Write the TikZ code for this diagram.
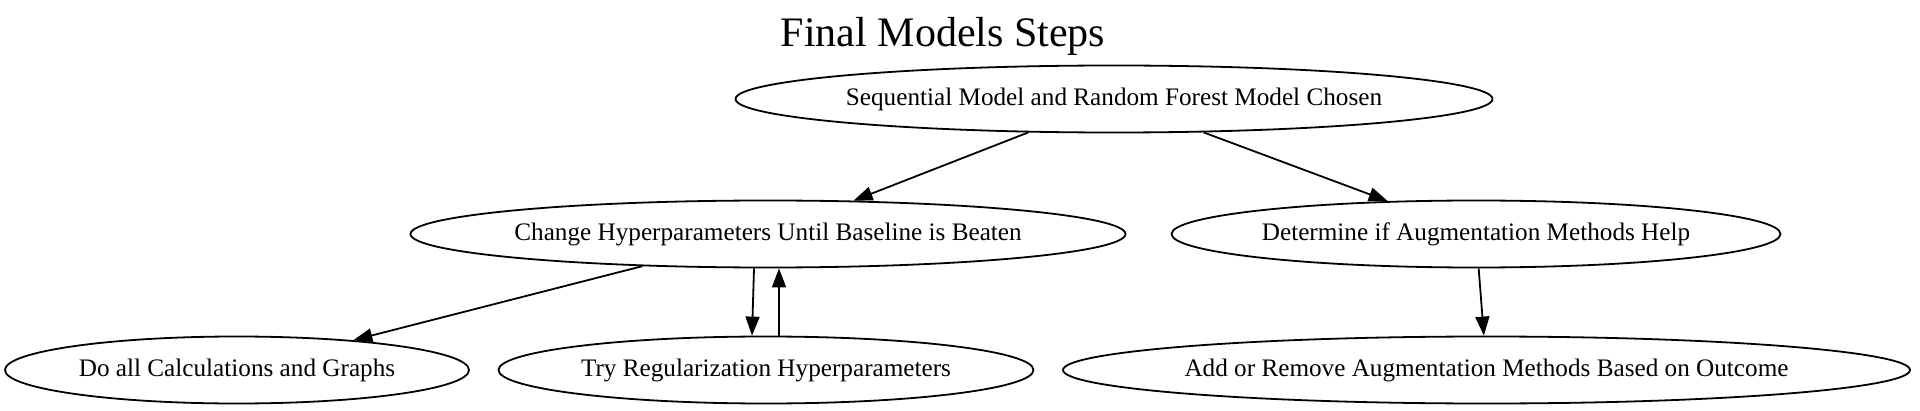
\documentclass[tikz,border=0pt]{standalone}
\usepackage{fontspec}
\setmainfont{Liberation Serif}
\usetikzlibrary{shapes.geometric,arrows.meta}
\newcommand\gvlabel[1]{\makebox[0pt][c]{#1}}
\begin{document}
\begin{tikzpicture}[x=0.5pt,y=-0.5pt,
 gvnode/.style={draw,ellipse,line width=0.9pt,inner sep=0pt,minimum height=33.5pt,font=\fontsize{12.6}{14}\selectfont},
 gvedge/.style={-{Triangle[length=9.5pt,width=7pt]},line width=0.9pt}]
\useasboundingbox (0,0) rectangle (1920,411);
\node (title) at (943,36) {\fontsize{21}{24}\selectfont Final Models Steps};
\node[gvnode,minimum width=378.5pt] (A) at (1114,99) {\gvlabel{Sequential Model and Random Forest Model Chosen}};
\node[gvnode,minimum width=357.5pt] (B) at (768,234) {\gvlabel{Change Hyperparameters Until Baseline is Beaten}};
\node[gvnode,minimum width=304.5pt] (C) at (1476,234) {\gvlabel{Determine if Augmentation Methods Help}};
\node[gvnode,minimum width=232pt] (D) at (237,370) {\gvlabel{Do all Calculations and Graphs}};
\node[gvnode,minimum width=267.5pt] (E) at (766,370) {\gvlabel{Try Regularization Hyperparameters}};
\node[gvnode,minimum width=423.5pt] (F) at (1486.5,370) {\gvlabel{Add or Remove Augmentation Methods Based on Outcome}};
\draw[gvedge] (A) -- (B);
\draw[gvedge] (A) -- (C);
\draw[gvedge] (B) -- (D);
\draw[gvedge] ([xshift=-7pt]B.south) -- ([xshift=-7pt]E.north);
\draw[gvedge] ([xshift=6.5pt]E.north) -- ([xshift=5.5pt]B.south);
\draw[gvedge] (C) -- (F);
\end{tikzpicture}
\end{document}
